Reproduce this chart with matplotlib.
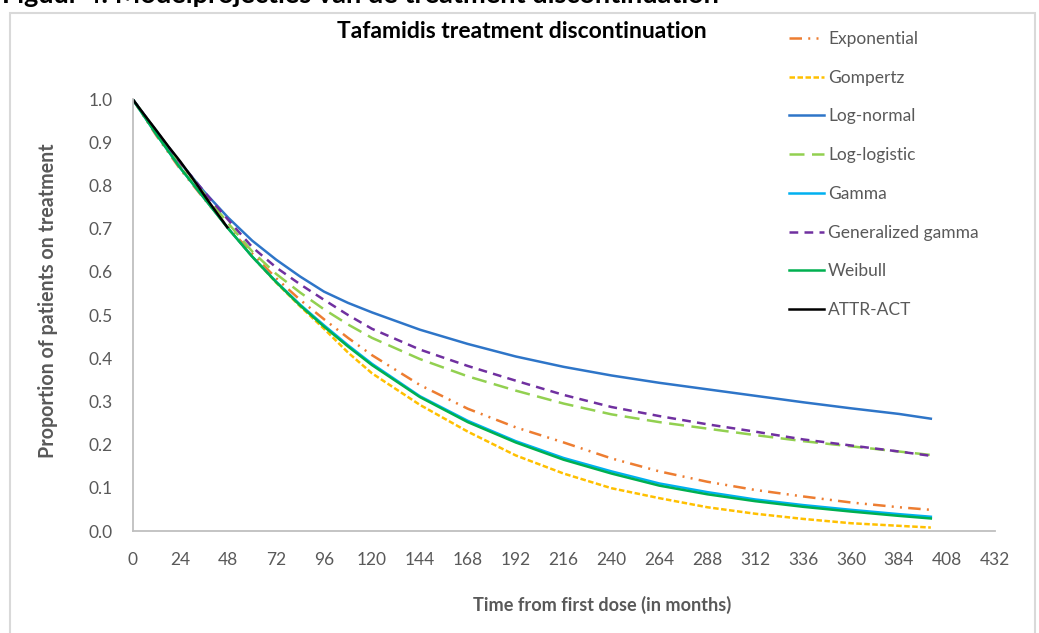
import matplotlib
matplotlib.use("Agg")
import matplotlib.pyplot as plt
from matplotlib.patches import Rectangle

# ---------------- data ----------------
months = [0, 12, 24, 36, 48, 60, 72, 84, 96, 108, 120, 144, 168, 192, 216, 240,
          264, 288, 312, 336, 360, 384, 400]

exponential = [1.0, 0.915, 0.837, 0.768, 0.703, 0.642, 0.585, 0.535, 0.49, 0.447, 0.407,
               0.338, 0.283, 0.24, 0.205, 0.168, 0.138, 0.114, 0.095, 0.08, 0.066, 0.055, 0.049]
gompertz = [1.0, 0.92, 0.843, 0.77, 0.70, 0.635, 0.575, 0.52, 0.468, 0.413, 0.365,
            0.292, 0.23, 0.175, 0.133, 0.099, 0.076, 0.055, 0.04, 0.028, 0.018, 0.012, 0.008]
log_normal = [1.0, 0.925, 0.852, 0.785, 0.725, 0.672, 0.628, 0.589, 0.554, 0.528, 0.506,
              0.466, 0.433, 0.404, 0.38, 0.36, 0.343, 0.328, 0.313, 0.298, 0.284, 0.271, 0.26]
log_logistic = [1.0, 0.925, 0.852, 0.78, 0.712, 0.647, 0.595, 0.552, 0.513, 0.478, 0.447,
                0.398, 0.358, 0.325, 0.295, 0.27, 0.252, 0.237, 0.222, 0.208, 0.196, 0.184, 0.176]
gamma = [1.0, 0.918, 0.84, 0.77, 0.70, 0.635, 0.577, 0.524, 0.476, 0.43, 0.387,
         0.312, 0.255, 0.208, 0.169, 0.138, 0.11, 0.09, 0.073, 0.06, 0.049, 0.039, 0.033]
gen_gamma = [1.0, 0.925, 0.852, 0.785, 0.72, 0.657, 0.61, 0.571, 0.535, 0.5, 0.468,
             0.42, 0.382, 0.348, 0.315, 0.287, 0.266, 0.247, 0.23, 0.212, 0.198, 0.184, 0.174]
weibull = [1.0, 0.918, 0.84, 0.77, 0.70, 0.635, 0.576, 0.522, 0.473, 0.427, 0.384,
           0.31, 0.252, 0.205, 0.165, 0.133, 0.105, 0.085, 0.069, 0.056, 0.045, 0.035, 0.029]

km_months = [0, 6, 12, 18, 24, 30, 36, 42, 47.5]
attr_act = [1.0, 0.963, 0.927, 0.89, 0.855, 0.817, 0.777, 0.738, 0.703]

x_ticks = list(range(0, 433, 24))
y_ticks = [0.0, 0.1, 0.2, 0.3, 0.4, 0.5, 0.6, 0.7, 0.8, 0.9, 1.0]

# ---------------- style ----------------
plt.rcParams['font.family'] = ['Lato', 'DejaVu Sans']
GRAY = '#595959'

W, H = 1039, 633
fig = plt.figure(figsize=(W / 100, H / 100), dpi=100)

def fx(px):
    return px / W

def fy(py):
    return 1 - py / H

# chart border
fig.patches.append(Rectangle((fx(10), fy(640)), fx(1035) - fx(10), fy(13) - fy(640),
                             transform=fig.transFigure, fill=False,
                             edgecolor='#D9D9D9', linewidth=1.5))

# caption of the page, cut by the top edge as in the source
fig.text(fx(2), fy(3), "Figuur 4: Modelprojecties van de treatment discontinuation",
         fontsize=19.5, fontweight='bold', color='black', ha='left', va='baseline')

ax = fig.add_axes([fx(132.5), fy(531), fx(994.7) - fx(132.5), fy(99) - fy(531)])

series = [
    ("Exponential", exponential, '#ED7D31', (0, (5, 2.5, 0.8, 2.5, 0.8, 2.5))),
    ("Gompertz", gompertz, '#FFC000', (0, (2.2, 1.0))),
    ("Log-normal", log_normal, '#2E75C8', '-'),
    ("Log-logistic", log_logistic, '#92D050', (0, (6, 3))),
    ("Gamma", gamma, '#00B0F0', '-'),
    ("Generalized gamma", gen_gamma, '#7030A0', (0, (3.5, 2.5))),
    ("Weibull", weibull, '#00B050', '-'),
]

handles = []
for name, vals, col, ls in series:
    ln, = ax.plot(months, vals, color=col, linestyle=ls, linewidth=1.8, label=name)
    handles.append(ln)
ln, = ax.plot(km_months, attr_act, color='black', linewidth=1.8, label='ATTR-ACT')
handles.append(ln)

ax.set_xlim(0, 432)
ax.set_ylim(0, 1.0)
ax.set_xticks(x_ticks)
ax.set_xticklabels([str(t) for t in x_ticks])
ax.set_yticks(y_ticks)
ax.set_yticklabels([f"{t:.1f}" for t in y_ticks])
ax.tick_params(axis='both', length=0, labelsize=12.5, labelcolor=GRAY)
ax.tick_params(axis='x', pad=15)
ax.tick_params(axis='y', pad=14)
for s in ['top', 'right']:
    ax.spines[s].set_visible(False)
for s in ['left', 'bottom']:
    ax.spines[s].set_color('#BFBFBF')
    ax.spines[s].set_linewidth(1.3)

# title & axis labels
fig.text(fx(522), fy(38), "Tafamidis treatment discontinuation", fontsize=16.5,
         fontweight='bold', color='black', ha='center', va='baseline')
fig.text(fx(602), fy(605), "Time from first dose (in months)", fontsize=13.1,
         fontweight='bold', color=GRAY, ha='center', va='center')
fig.text(fx(48), fy(301), "Proportion of patients on treatment", fontsize=14.1,
         fontweight='bold', color=GRAY, ha='center', va='center', rotation=90)

leg = fig.legend(handles=handles, loc='upper left', bbox_to_anchor=(fx(789), fy(31)),
                 frameon=False, fontsize=12.5, labelcolor=GRAY, handlelength=2.0,
                 handletextpad=0.25, labelspacing=1.31, borderpad=0, borderaxespad=0)

fig.savefig("out.png", dpi=100)
